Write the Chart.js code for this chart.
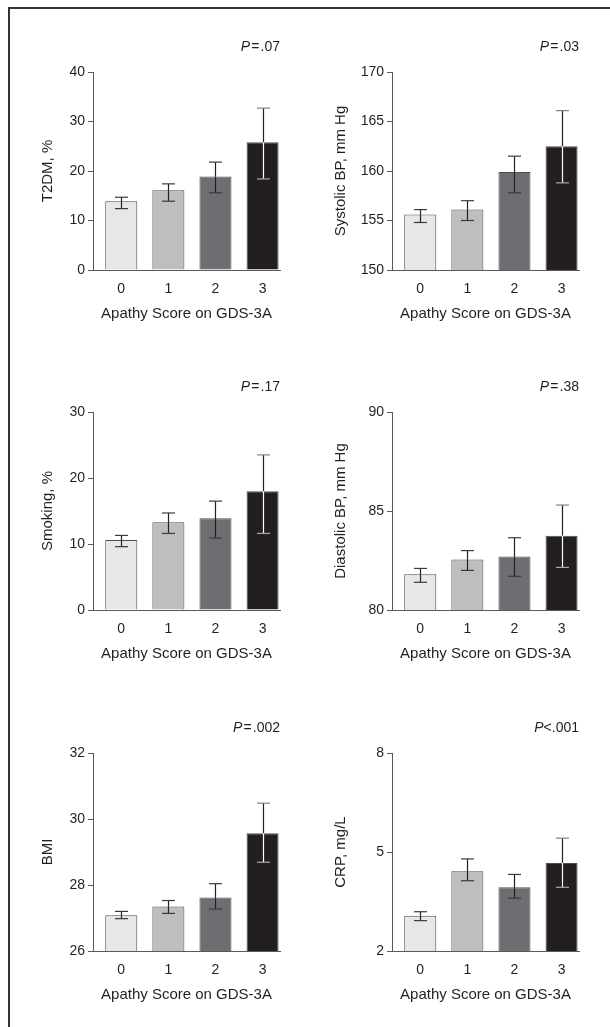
<!DOCTYPE html>
<html>
<head>
<meta charset="utf-8">
<script src="https://cdn.jsdelivr.net/npm/chart.js@4.4.1/dist/chart.umd.min.js"></script>
<style>
    html, body { margin: 0; padding: 0; background: #fff; }
    body { width: 610px; height: 1027px; position: relative; overflow: hidden; }
    #frame { position: absolute; left: 8px; top: 7px; right: -4px; bottom: -4px;
             border-top: 2px solid #333; border-left: 2px solid #333; }
    canvas { position: absolute; }
</style>
</head>
<body>
<div id="frame"></div>
<canvas id="t2dm" width="297" height="300" style="left:3px;top:32px"></canvas>
<canvas id="sbp" width="297" height="300" style="left:302px;top:32px"></canvas>
<canvas id="smoke" width="297" height="300" style="left:3px;top:372px"></canvas>
<canvas id="dbp" width="297" height="300" style="left:302px;top:372px"></canvas>
<canvas id="bmi" width="297" height="300" style="left:3px;top:713px"></canvas>
<canvas id="crp" width="297" height="300" style="left:302px;top:713px"></canvas>

<script>
// Apathy score groups
const categories = ['0', '1', '2', '3'];

// Values: bar mean, lower and upper error bar ends
const t2dmMean = [13.9, 16.1, 18.9, 25.8];
const t2dmLow = [12.4, 13.9, 15.6, 18.4];
const t2dmHigh = [14.7, 17.4, 21.8, 32.7];
const t2dmTicks = [0, 10, 20, 30, 40];

const sbpMean = [155.6, 156.1, 159.9, 162.5];
const sbpLow = [154.8, 155.0, 157.8, 158.8];
const sbpHigh = [156.1, 157.0, 161.5, 166.1];
const sbpTicks = [150, 155, 160, 165, 170];

const smokeMean = [10.6, 13.3, 13.9, 18.0];
const smokeLow = [9.6, 11.6, 10.9, 11.6];
const smokeHigh = [11.3, 14.7, 16.5, 23.5];
const smokeTicks = [0, 10, 20, 30];

const dbpMean = [81.8, 82.55, 82.7, 83.75];
const dbpLow = [81.4, 82.0, 81.7, 82.15];
const dbpHigh = [82.1, 83.0, 83.65, 85.3];
const dbpTicks = [80, 85, 90];

const bmiMean = [27.08, 27.35, 27.62, 29.57];
const bmiLow = [26.98, 27.14, 27.27, 28.69];
const bmiHigh = [27.2, 27.53, 28.04, 30.48];
const bmiTicks = [26, 28, 30, 32];

const crpMean = [3.07, 4.42, 3.93, 4.67];
const crpLow = [2.92, 4.13, 3.6, 3.93];
const crpHigh = [3.19, 4.79, 4.32, 5.42];
const crpTicks = [2, 5, 8];

const barColors = ['#e6e7e8', '#bcbec0', '#6d6e71', '#231f20'];
const ink = '#231f20';
const axisColor = '#58595b';
const fontFamily = '"Liberation Sans", Arial, Helvetica, sans-serif';

Chart.defaults.font.family = fontFamily;
Chart.defaults.color = ink;

// Error bars: dark stem above the bar, white stem inside the black bar
const errorBars = {
    id: 'errorBars',
    afterDatasetsDraw(chart, args, opts) {
        const meta = chart.getDatasetMeta(0);
        const yScale = chart.scales.y;
        const ctx = chart.ctx;
        ctx.save();
        ctx.lineWidth = 1.2;
        meta.data.forEach((bar, i) => {
            const x = Math.round(bar.x) + 0.5;
            const top = yScale.getPixelForValue(opts.high[i]);
            const bot = yScale.getPixelForValue(opts.low[i]);
            const dark = i === 3;

            ctx.strokeStyle = ink;
            ctx.beginPath();
            ctx.moveTo(x, top);
            ctx.lineTo(x, bar.y);
            ctx.stroke();

            ctx.strokeStyle = dark ? '#ffffff' : ink;
            ctx.beginPath();
            ctx.moveTo(x, bar.y);
            ctx.lineTo(x, bot);
            ctx.stroke();

            ctx.strokeStyle = dark ? '#808285' : '#3a3a3c';
            ctx.beginPath();
            ctx.moveTo(x - 6.5, top);
            ctx.lineTo(x + 6.5, top);
            ctx.stroke();
            ctx.strokeStyle = dark ? '#a7a9ac' : '#3a3a3c';
            ctx.beginPath();
            ctx.moveTo(x - 6.5, bot);
            ctx.lineTo(x + 6.5, bot);
            ctx.stroke();
        });
        ctx.restore();
    }
};

// P value above each panel, italic P
const pLabel = {
    id: 'pLabel',
    afterDraw(chart, args, opts) {
        const {ctx, chartArea} = chart;
        const regular = '14px ' + fontFamily;
        const italic = 'italic 14px ' + fontFamily;
        ctx.save();
        ctx.fillStyle = ink;
        ctx.textBaseline = 'middle';
        ctx.textAlign = 'left';
        ctx.font = regular;
        const wRest = ctx.measureText(opts.text).width;
        ctx.font = italic;
        const wP = ctx.measureText('P').width;
        const right = chartArea.right;
        const y = chartArea.top - 25;
        ctx.fillText('P', right - wRest - wP, y);
        ctx.font = regular;
        ctx.fillText(opts.text, right - wRest, y);
        ctx.restore();
    }
};

function makePanel(id, col, yTitle, yTicks, mean, low, high, pText) {
    new Chart(document.getElementById(id), {
        type: 'bar',
        data: {
            datasets: [{
                data: mean.map((v, i) => ({ x: i, y: v })),
                backgroundColor: barColors,
                borderColor: '#4d4d4f',
                borderWidth: 1,
                barPercentage: 0.68,
                categoryPercentage: 1
            }]
        },
        options: {
            responsive: false,
            animation: false,
            layout: { padding: { top: 40, right: 20, bottom: 2, left: 0 } },
            plugins: {
                legend: { display: false },
                tooltip: { enabled: false },
                errorBars: { low: low, high: high },
                pLabel: { text: pText }
            },
            scales: {
                x: {
                    type: 'linear',
                    offset: false,
                    min: -0.6,
                    max: 3.37,
                    afterBuildTicks: s => { s.ticks = categories.map((c, i) => ({ value: i })); },
                    afterFit: s => { s.height = 60; },
                    grid: { display: false },
                    border: { display: true, color: axisColor, width: 1 },
                    ticks: {
                        callback: v => categories[v],
                        autoSkip: false,
                        maxRotation: 0,
                        padding: 3,
                        font: { size: 14 },
                        color: ink
                    },
                    title: {
                        display: true,
                        text: 'Apathy Score on GDS-3A',
                        font: { size: 15 },
                        color: ink,
                        padding: { top: 0, bottom: 7 }
                    }
                },
                y: {
                    min: yTicks[0],
                    max: yTicks[yTicks.length - 1],
                    beginAtZero: false,
                    afterBuildTicks: s => { s.ticks = yTicks.map(v => ({ value: v })); },
                    afterFit: s => { s.width = 90; },
                    grid: { drawOnChartArea: false, drawTicks: true, tickLength: 5, color: axisColor },
                    border: { display: true, color: axisColor, width: 1 },
                    ticks: { padding: 3, font: { size: 14 }, color: ink },
                    title: {
                        display: true,
                        text: yTitle,
                        font: { size: 15 },
                        color: ink,
                        padding: { top: col === 0 ? 36 : 30, bottom: 0 }
                    }
                }
            }
        },
        plugins: [errorBars, pLabel]
    });
}

makePanel('t2dm', 0, 'T2DM, %', t2dmTicks, t2dmMean, t2dmLow, t2dmHigh, '\u200A=\u200A.07');
makePanel('sbp', 1, 'Systolic BP, mm Hg', sbpTicks, sbpMean, sbpLow, sbpHigh, '\u200A=\u200A.03');
makePanel('smoke', 0, 'Smoking, %', smokeTicks, smokeMean, smokeLow, smokeHigh, '\u200A=\u200A.17');
makePanel('dbp', 1, 'Diastolic BP, mm Hg', dbpTicks, dbpMean, dbpLow, dbpHigh, '\u200A=\u200A.38');
makePanel('bmi', 0, 'BMI', bmiTicks, bmiMean, bmiLow, bmiHigh, '\u200A=\u200A.002');
makePanel('crp', 1, 'CRP, mg/L', crpTicks, crpMean, crpLow, crpHigh, '<.001');
</script>
</body>
</html>
